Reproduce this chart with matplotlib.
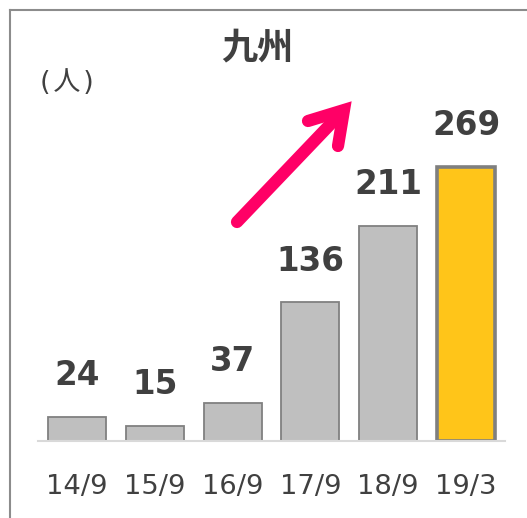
import matplotlib
matplotlib.use("Agg")
import matplotlib.pyplot as plt
from matplotlib.lines import Line2D

plt.rcParams['font.family'] = ['DejaVu Sans', 'Noto Sans CJK JP']

# Data
periods = ["14/9", "15/9", "16/9", "17/9", "18/9", "19/3"]
counts = [24, 15, 37, 136, 211, 269]
title = "九州"
unit_label = "(\u200a人\u200a)"

W, H = 527, 518
fig = plt.figure(figsize=(W / 100, H / 100), dpi=100)


def fx(px):
    return px / W


def fy(py):
    return 1 - py / H


# axes: baseline at y=441px, x span 38..505px
ax_left, ax_right = 38, 505
ax_base, ax_top = 441, 20
ax = fig.add_axes([fx(ax_left), fy(ax_base),
                   (ax_right - ax_left) / W, (ax_base - ax_top) / H])
px_per_unit = 274 / 269
ax.set_xlim(-0.5, len(periods) - 0.5)
ax.set_ylim(0, (ax_base - ax_top) / px_per_unit)

text_color = "#404040"
x = list(range(len(periods)))
ax.bar(x[:-1], counts[:-1], width=0.745, color="#BFBFBF",
       edgecolor="#808080", linewidth=1.3, zorder=2)
ax.bar(x[-1:], counts[-1:], width=0.745, color="#FFC519",
       edgecolor="#7F7F7F", linewidth=2.6, zorder=2)

for xi, v in zip(x, counts):
    ax.annotate(str(v), (xi, v), xytext=(0, 23), textcoords="offset points",
                ha="center", va="baseline", fontsize=23.5, fontweight="bold",
                color=text_color)

ax.set_xticks(x)
ax.set_xticklabels(periods, fontsize=19.7, color=text_color)
ax.tick_params(axis="x", length=0, pad=24)
ax.set_yticks([])
for s in ["top", "right", "left"]:
    ax.spines[s].set_visible(False)
ax.spines["bottom"].set_color("#D9D9D9")
ax.spines["bottom"].set_linewidth(1.5)
ax.spines["bottom"].set_zorder(3)

# title and unit
fig.text(fx(257.5), fy(48), title, ha="center", va="center",
         fontsize=26, fontweight="bold", color=text_color,
         family=["Noto Sans CJK JP", "DejaVu Sans"])
fig.text(fx(40), fy(82.5), unit_label, ha="left", va="center",
         fontsize=19.5, color=text_color,
         family=["DejaVu Sans", "Noto Sans CJK JP"])

# trend arrow: thick shaft plus a mitred open head
arrow_kw = dict(color="#FF0066", linewidth=8.8, transform=fig.transFigure,
                solid_capstyle="round")
fig.add_artist(Line2D([fx(237), fx(343)], [fy(222), fy(111)], **arrow_kw))
fig.add_artist(Line2D([fx(308), fx(344), fx(338)],
                      [fy(121), fy(110), fy(146)],
                      solid_joinstyle="miter", **arrow_kw))

# panel frame (top and left edges)
frame_kw = dict(color="#8C8C8C", linewidth=1.5, transform=fig.transFigure)
fig.add_artist(Line2D([fx(9.5), 1], [fy(9.5), fy(9.5)], **frame_kw))
fig.add_artist(Line2D([fx(9.5), fx(9.5)], [0, fy(9.5)], **frame_kw))

fig.savefig("out.png", dpi=100, facecolor="white")
